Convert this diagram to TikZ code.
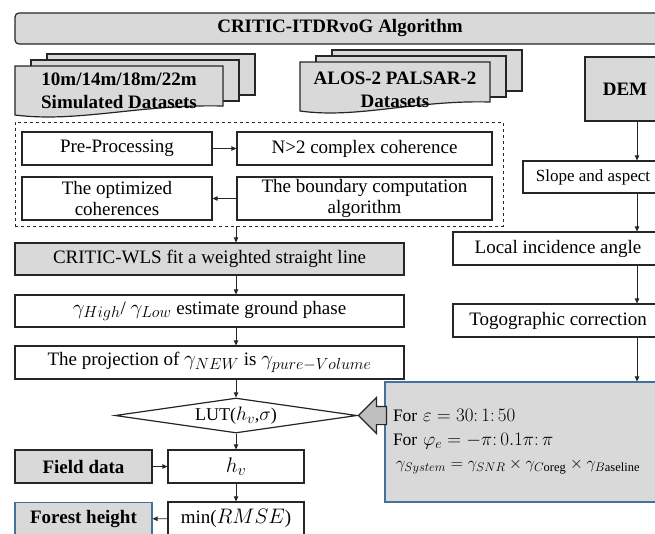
\documentclass[tikz,border=0pt]{standalone}
\usepackage{fix-cm}
\usepackage{fontspec}
\setmainfont{Liberation Serif}
\usetikzlibrary{arrows.meta,shapes.geometric,shapes.arrows}

% larger math next to the serif text
\DeclareMathSizes{19}{21}{16}{12}
\DeclareMathSizes{18}{19.5}{14.5}{11}
\DeclareMathSizes{17.5}{19}{14}{11}
\DeclareMathSizes{15.5}{16.5}{12.5}{10}

\definecolor{boxgray}{HTML}{D9D9D9}
\definecolor{tipgray}{HTML}{BFBFBF}
\definecolor{edgeblue}{HTML}{41719C}
\definecolor{ink}{HTML}{262626}

\begin{document}
\begin{tikzpicture}[x=1pt, y=-1pt,
    >={Triangle[length=5pt,width=4.5pt]},
    every node/.style={text=black},
    proc/.style={draw=ink, line width=1.2pt, fill=white, rectangle, inner sep=2pt,
        align=center, minimum height=33, font=\fontsize{19}{21}\selectfont},
    grayproc/.style={proc, fill=boxgray},
    boldbox/.style={grayproc, font=\fontsize{19}{21}\selectfont\bfseries},
    sheet/.style={draw=ink, line width=1.2pt, fill=boxgray},
    sheettext/.style={align=center, font=\fontsize{19}{23}\selectfont\bfseries},
    flow/.style={->, draw=ink, line width=0.9pt},
    decision/.style={diamond, draw=ink, line width=1.2pt, fill=white, aspect=7, inner sep=0pt,
        minimum width=242, minimum height=35, font=\fontsize{18}{20}\selectfont},
    bigarrow/.style={single arrow, shape border rotate=180, draw=ink, line width=1.2pt,
        fill=tipgray, minimum height=28, minimum width=35, inner sep=8.5pt,
        single arrow head extend=9pt}]
    % 0. Canvas
    \useasboundingbox (0,0) rectangle (655,533);
    \clip (0,0) rectangle (655,533);

    % 1. Title bar
    \node[boldbox, rounded corners=4pt, minimum width=650, minimum height=31] (head) at (340,28.5) {CRITIC-ITDRvoG Algorithm};

    % 2. Stacked data sheets
    \foreach \x/\y/\w in {15/66/208, 300/62/190} {
        \filldraw[sheet] (\x+32,\y-12) rectangle ++(\w,41);
        \filldraw[sheet] (\x+16,\y-6) rectangle ++(\w,41);
        \filldraw[sheet] (\x,\y) -- ++(\w,0) -- ++(0,40)
            .. controls (\x+0.6*\w,\y+38) and (\x+0.3*\w,\y+57) .. (\x,\y+49) -- cycle;
    }
    \node[sheettext] (sim) at (119,91) {10m/14m/18m/22m\\Simulated Datasets};
    \node[sheettext] (alos) at (395,90) {ALOS-2 PALSAR-2\\Datasets};
    \node[boldbox, minimum width=80, minimum height=64] (dem) at (625,89) {DEM};

    % 3. Coherence group
    \node[draw=ink, line width=0.8pt, dashed, minimum width=488, minimum height=104] (grp) at (259,174) {};
    \node[proc, minimum width=190] (pre) at (117,148.5) {Pre-Processing};
    \node[proc, minimum width=255] (multi) at (364.5,148.5) {N>2 complex coherence};
    \node[proc, minimum width=190, minimum height=43] (opt) at (117,198.5) {The optimized\\coherences};
    \node[proc, minimum width=255, minimum height=43] (bound) at (364.5,198.5) {The boundary computation\\algorithm};
    \draw[flow] (pre) -- (multi);
    \draw[flow] (bound) -- (opt);

    % 4. Main chain
    \node[grayproc, minimum width=389, minimum height=32] (wls) at (209.5,259) {CRITIC-WLS fit a weighted straight line};
    \node[proc, minimum width=389, minimum height=32] (ground) at (209.5,311) {$\gamma_{High}$/ $\gamma_{Low}$ estimate ground phase};
    \node[proc, minimum width=389] (proj) at (209.5,362.5) {The projection of $\gamma_{NEW}$ is $\gamma_{pure-Volume}$};
    \node[decision] (lut) at (236,415.5) {LUT($h_v$,$\sigma$)};
    \node[proc, minimum width=136] (hv) at (236,466.5) {$h_v$};
    \node[proc, minimum width=136] (rmse) at (236,518.5) {min($RMSE$)};
    \node[boldbox, minimum width=137] (field) at (83.5,466.5) {Field data};
    \node[boldbox, draw=edgeblue, minimum width=137] (height) at (83.5,519) {Forest height};
    \draw[flow] (grp.south -| lut) -- (wls.north -| lut);
    \draw[flow] (wls.south -| lut) -- (ground.north -| lut);
    \draw[flow] (ground.south -| lut) -- (proj.north -| lut);
    \draw[flow] (proj.south -| lut) -- (lut);
    \draw[flow] (lut) -- (hv);
    \draw[flow] (hv) -- (rmse);
    \draw[flow] (field) -- (hv);
    \draw[flow] (rmse) -- (height);

    % 5. Terrain branch
    \coordinate (rail) at (637,0);
    \node[proc, minimum width=140, minimum height=32, font=\fontsize{17}{19}\selectfont] (slope) at (593,177) {Slope and aspect};
    \node[proc, minimum width=210] (local) at (558,248.5) {Local incidence angle};
    \node[proc, minimum width=210] (topo) at (558,320.5) {Togographic correction};
    \node[grayproc, draw=edgeblue, minimum width=295, minimum height=120, text width=279,
        align=left, inner xsep=8pt, font=\fontsize{17.5}{23.5}\selectfont] (sys) at (532.5,442)
        {For $\varepsilon = 30{:}\,1{:}\,50$\\
         For $\varphi_e = -\pi{:}\,0.1\pi{:}\,\pi$\\
         \hspace{3pt}{\fontsize{15.5}{23.5}\selectfont$\gamma_{System} = \gamma_{SNR} \times \gamma_{C\mathrm{oreg}} \times \gamma_{B\mathrm{aseline}}$}};
    \draw[flow] (dem.south -| rail) -- (slope.north -| rail);
    \draw[flow] (slope.south -| rail) -- (local.north -| rail);
    \draw[flow] (local.south -| rail) -- (topo.north -| rail);
    \draw[flow] (topo.south -| rail) -- (sys.north -| rail);
    \node[bigarrow, anchor=tip] (pull) at (lut.east) {};
\end{tikzpicture}
\end{document}
